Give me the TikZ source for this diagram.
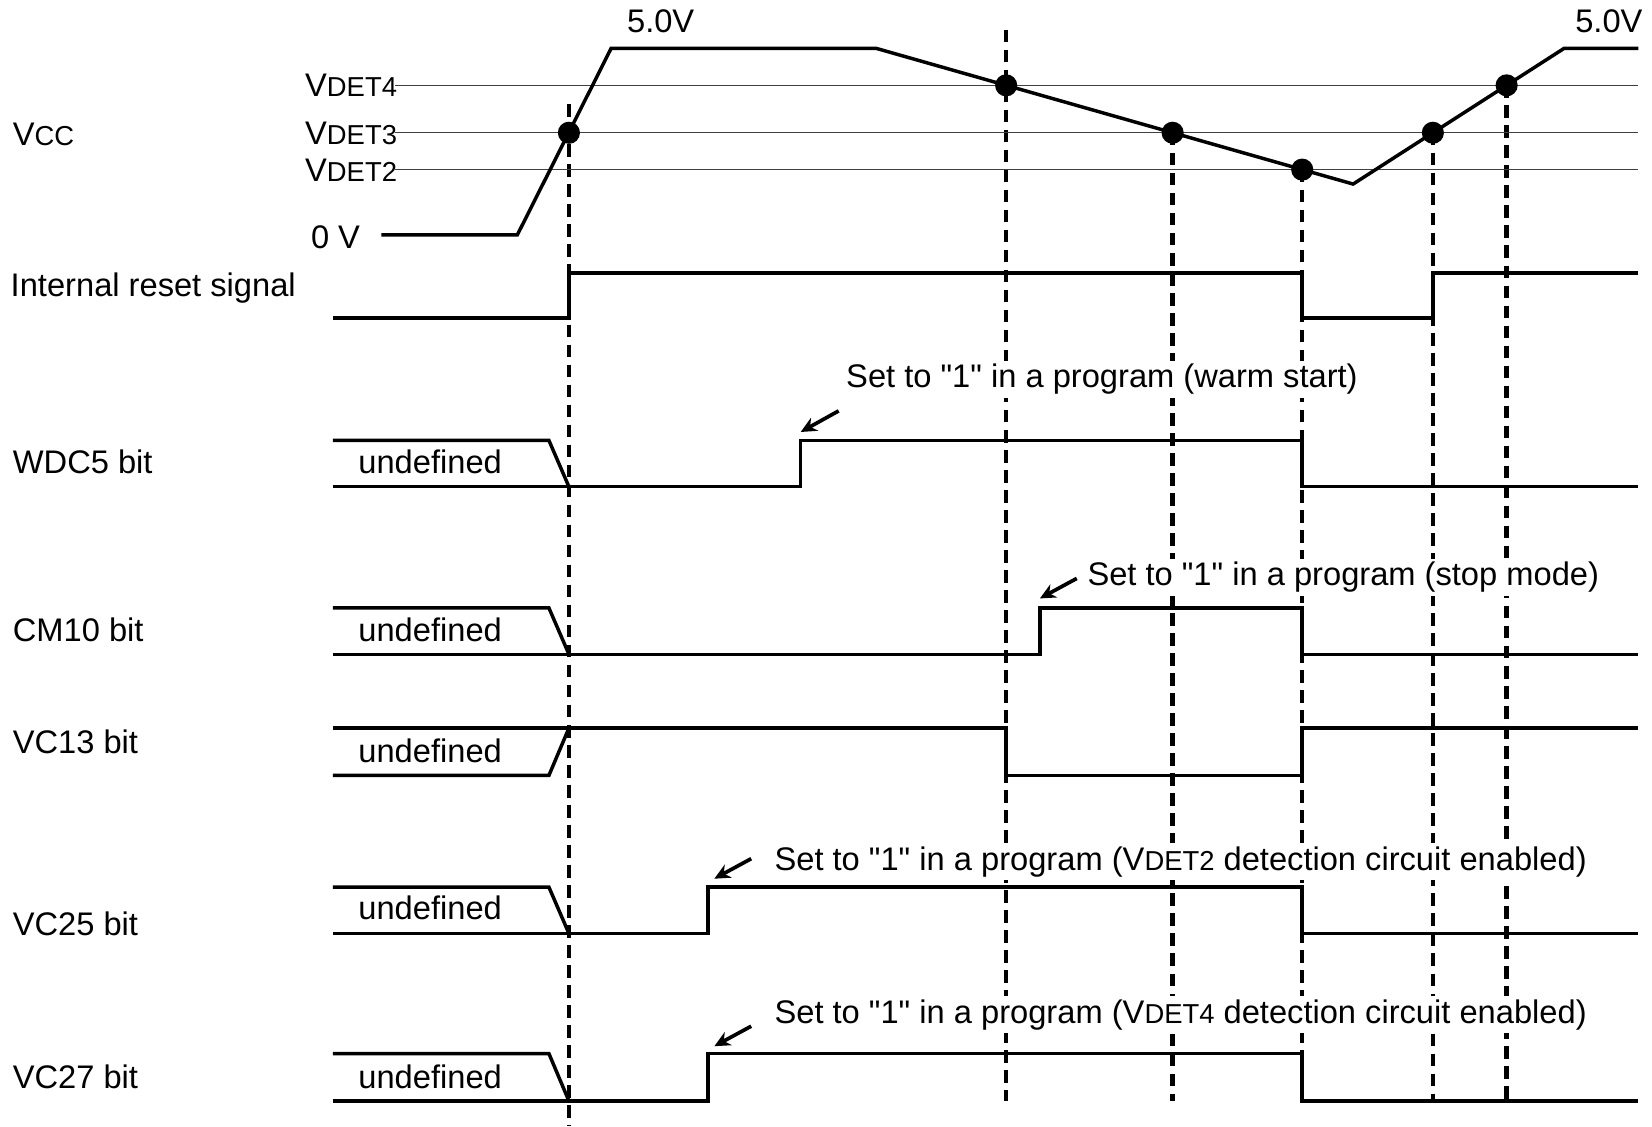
\documentclass[tikz,border=0pt]{standalone}
\usepackage{fontspec}
\setmainfont{Liberation Sans}[Ligatures=TeXOff]
\usetikzlibrary{arrows.meta}
\newcommand\subsz{\fontsize{26}{30}\selectfont}
\begin{document}
\begin{tikzpicture}[x=1pt,y=-1pt,
  sig/.style={line width=3.3pt, line join=miter, line cap=butt},
  thr/.style={line width=1.2pt, black!75},
  vline/.style={line width=4.2pt, dash pattern=on 12pt off 7pt},
  vlinethin/.style={line width=3.2pt, dash pattern=on 12pt off 7pt},
  lbl/.style={anchor=base west, inner sep=0pt, font=\fontsize{31}{36}\selectfont},
  lble/.style={anchor=base east, inner sep=0pt, font=\fontsize{31}{36}\selectfont},
  note/.style={anchor=base west, fill=white, inner xsep=2pt, inner ysep=3pt, font=\fontsize{31}{36}\selectfont},
  dotc/.style={circle, fill=black, inner sep=0pt, minimum width=19pt, minimum height=21pt},
  pointer/.style={line width=3.5pt, -{Stealth[length=15pt,width=14pt]}}
]
\useasboundingbox (0,0) rectangle (1568,1069);

% ---------- dashed time markers ----------
\draw[vlinethin] (540,99) -- (540,1069);
\draw[vline] (955,28) -- (955,1045);
\draw[vline] (1113,126) -- (1113,1045);
\draw[vline] (1236,161) -- (1236,1045);
\draw[vline] (1360,126) -- (1360,1045);
\draw[vline] (1430,81) -- (1430,1045);

% ---------- threshold lines ----------
\draw[thr] (375,81) -- (1555,81);
\draw[thr] (375,126) -- (1555,126);
\draw[thr] (375,161) -- (1555,161);

% ---------- Vcc waveform ----------
\draw[sig] (362,223) -- (491,223) -- (580,46) -- (832,46) -- (1284.3,174.7) -- (1484.4,46) -- (1555,46);
\node[dotc] (d1) at (540,126) {};
\node[dotc] (d2) at (955,81) {};
\node[dotc] (d3) at (1113,126) {};
\node[dotc] (d4) at (1236,161) {};
\node[dotc] (d5) at (1360,126) {};
\node[dotc] (d6) at (1430,81) {};

% ---------- Internal reset signal ----------
\draw[sig] (316,302) -- (540,302) -- (540,259) -- (1236,259) -- (1236,302) -- (1360,302) -- (1360,259) -- (1555,259);

% ---------- WDC5 bit ----------
\draw[sig] (316,418) -- (521,418) -- (540,462);
\draw[sig] (316,462) -- (760,462) -- (760,418) -- (1236,418) -- (1236,462) -- (1555,462);

% ---------- CM10 bit ----------
\draw[sig] (316,577) -- (521,577) -- (540,621);
\draw[sig] (316,621) -- (987,621) -- (987,577) -- (1236,577) -- (1236,621) -- (1555,621);

% ---------- VC13 bit ----------
\draw[sig] (316,736) -- (521,736) -- (540,691);
\draw[sig] (316,691) -- (955,691) -- (955,736) -- (1236,736) -- (1236,691) -- (1555,691);

% ---------- VC25 bit ----------
\draw[sig] (316,842) -- (521,842) -- (540,886);
\draw[sig] (316,886) -- (672,886) -- (672,842) -- (1236,842) -- (1236,886) -- (1555,886);

% ---------- VC27 bit ----------
\draw[sig] (316,1000) -- (521,1000) -- (540,1045);
\draw[sig] (316,1045) -- (672,1045) -- (672,1000) -- (1236,1000) -- (1236,1045) -- (1555,1045);

% ---------- left labels ----------
\node[lbl] (lvcc) at (12,138) {V{\subsz CC}};
\node[lbl] (lrst) at (10,281) {Internal reset signal};
\node[lbl] (lwdc) at (12,449) {WDC5 bit};
\node[lbl] (lcm) at (12,609) {CM10 bit};
\node[lbl] (lvc13) at (12,715) {VC13 bit};
\node[lbl] (lvc25) at (12,888) {VC25 bit};
\node[lbl] (lvc27) at (12,1033) {VC27 bit};

% ---------- voltage labels ----------
\node[lbl] (v5a) at (595,31) {5.0V};
\node[lbl] (v5b) at (1495,31) {5.0V};
\node[lbl] (v0) at (295,236) {0 V};
\node[lble] (vd4) at (377,92) {V{\subsz DET4}};
\node[lble] (vd3) at (377,137) {V{\subsz DET3}};
\node[lble] (vd2) at (377,172) {V{\subsz DET2}};

% ---------- undefined labels ----------
\node[lbl] (u1) at (340,449) {undefined};
\node[lbl] (u2) at (340,609) {undefined};
\node[lbl] (u3) at (340,724) {undefined};
\node[lbl] (u4) at (340,873) {undefined};
\node[lbl] (u5) at (340,1033) {undefined};

% ---------- annotations ----------
\node[note] (n1) at (801,368) {Set to "1" in a program (warm start)};
\node[note] (n2) at (1030,556) {Set to "1" in a program (stop mode)};
\node[note] (n3) at (733,826) {Set to "1" in a program (V{\subsz DET2} detection circuit enabled)};
\node[note] (n4) at (733,971) {Set to "1" in a program (V{\subsz DET4} detection circuit enabled)};

\coordinate (a1s) at (796,390);
\coordinate (a1e) at (760,410);
\coordinate (a2s) at (1022,549);
\coordinate (a2e) at (987,568);
\coordinate (a3s) at (713,815);
\coordinate (a3e) at (678,834);
\coordinate (a4s) at (713,974);
\coordinate (a4e) at (678,993);
\draw[pointer] (a1s) -- (a1e);
\draw[pointer] (a2s) -- (a2e);
\draw[pointer] (a3s) -- (a3e);
\draw[pointer] (a4s) -- (a4e);
\end{tikzpicture}
\end{document}
